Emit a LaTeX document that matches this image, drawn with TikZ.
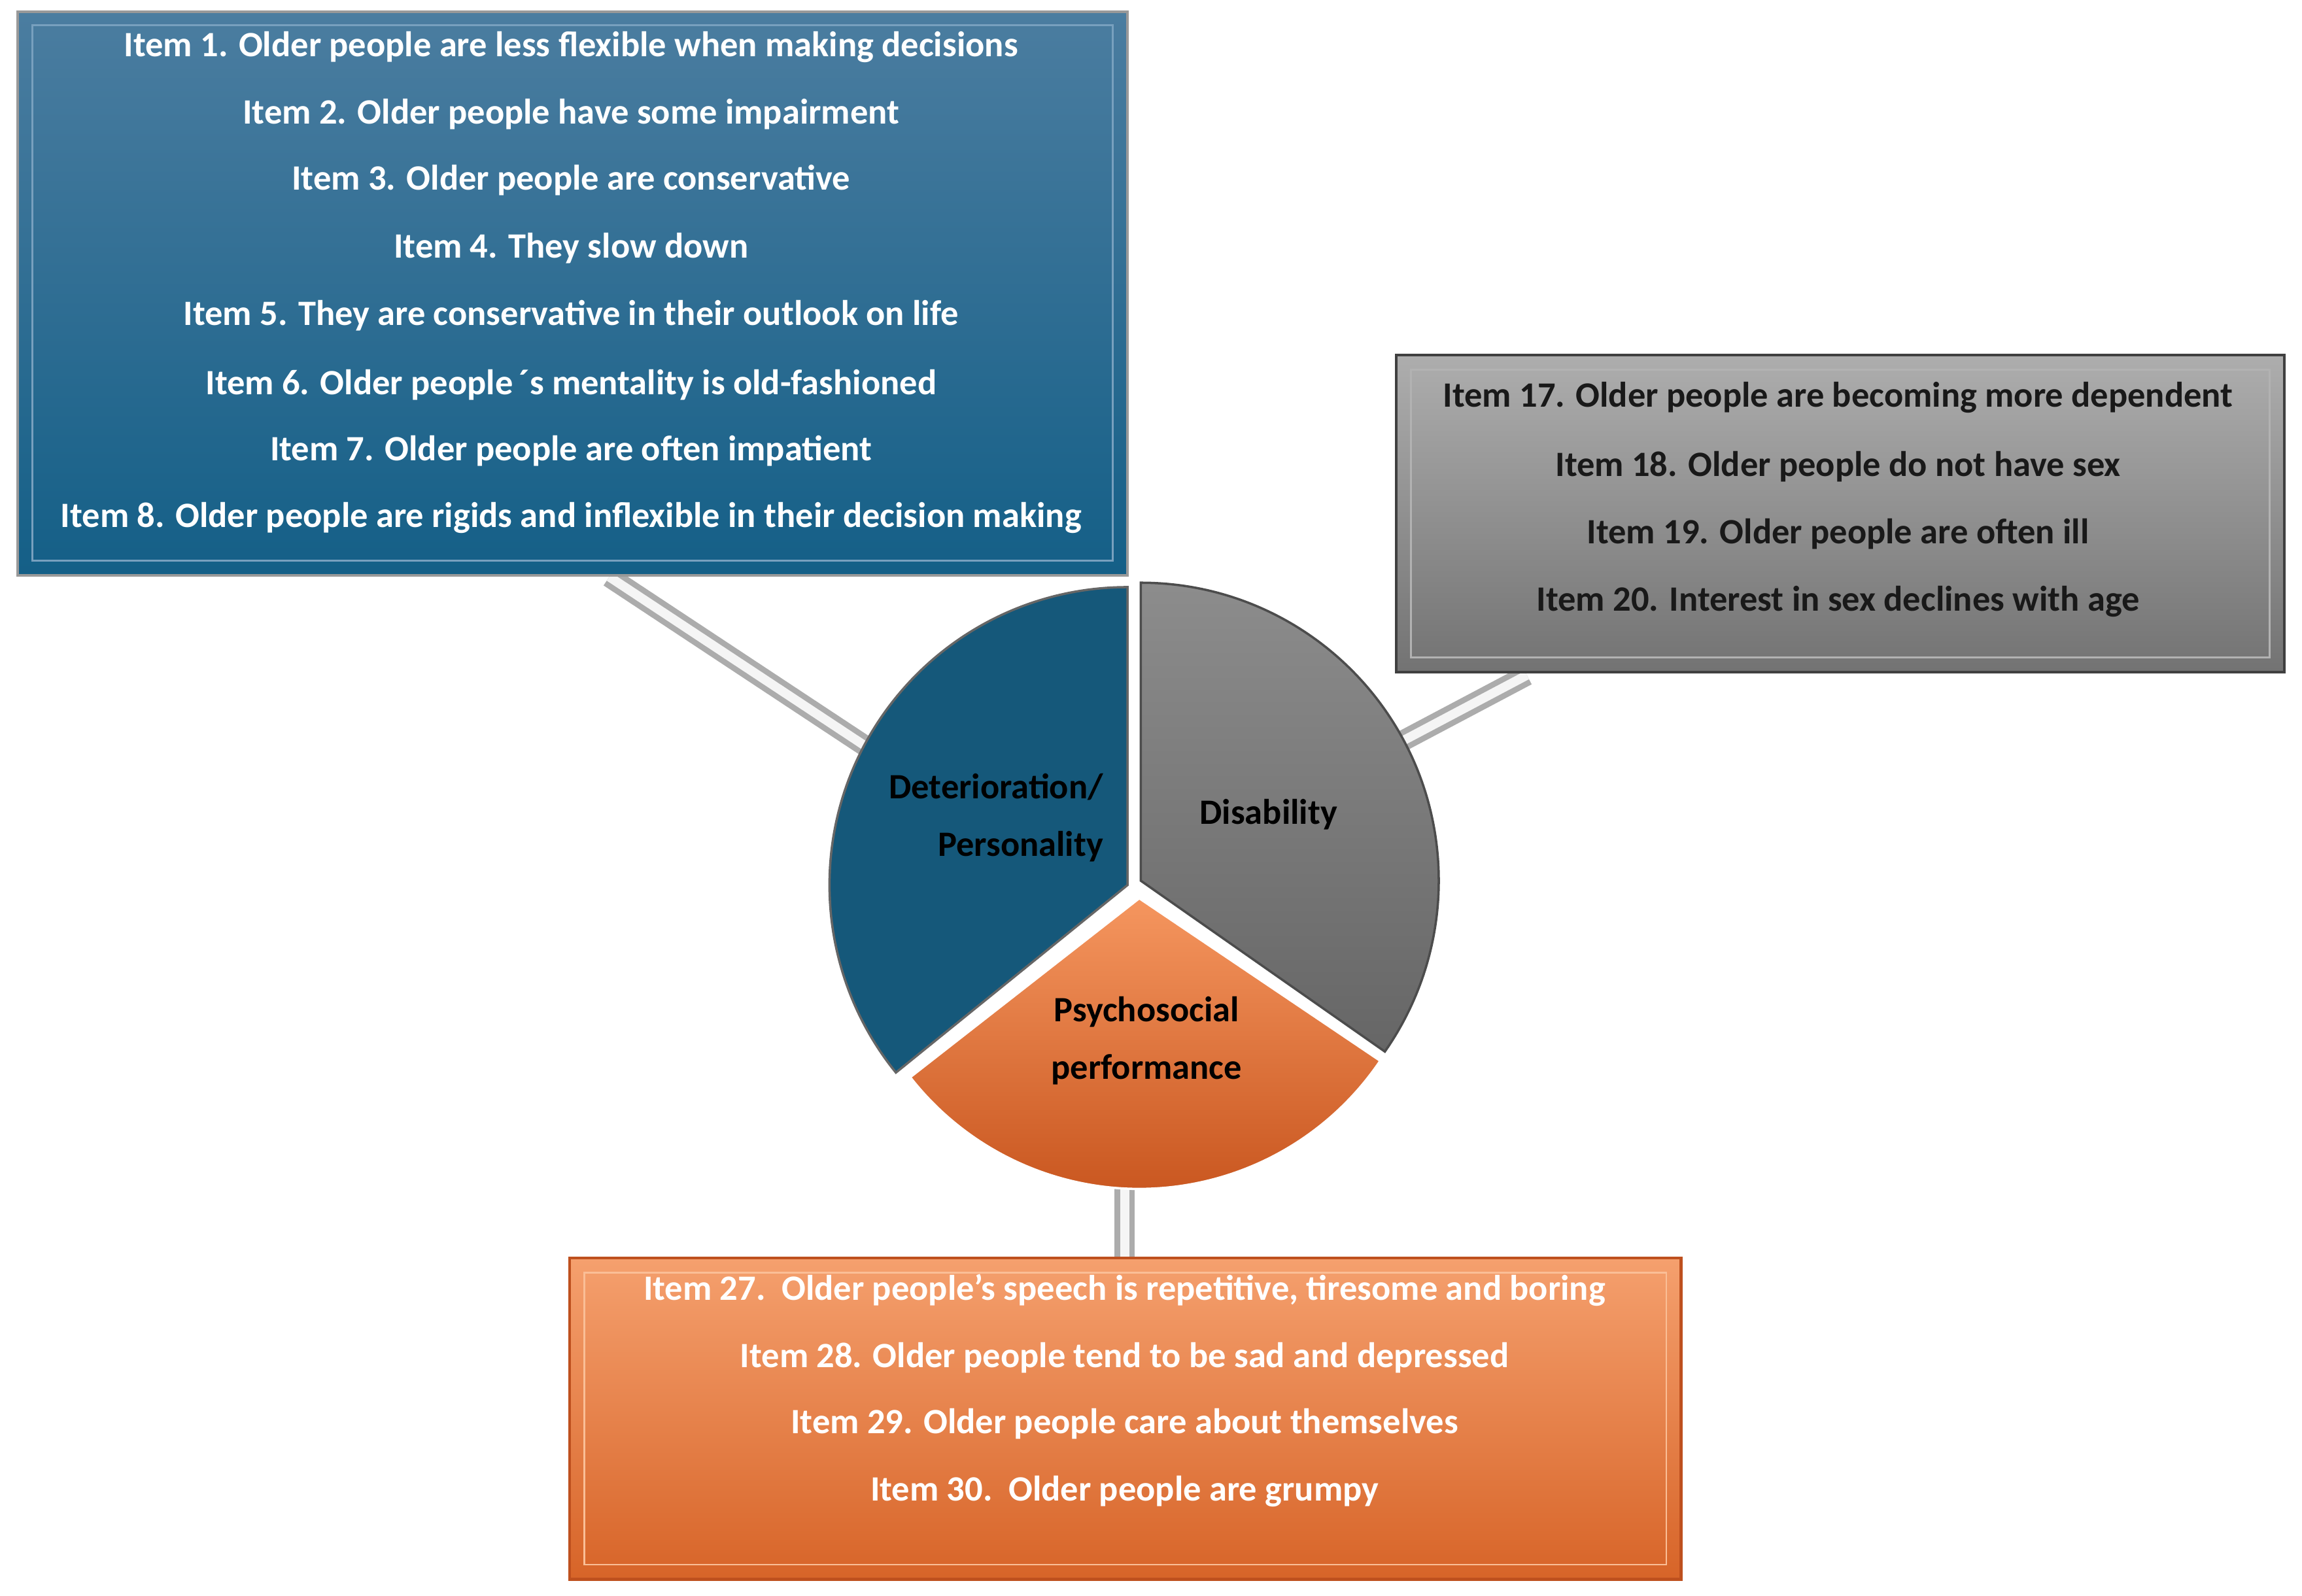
\documentclass[tikz,border=0pt]{standalone}
\usepackage{fontspec}
\setmainfont{Carlito}
\begin{document}
\begin{tikzpicture}[x=0.02245cm,y=-0.02245cm,
  itm/.style={font=\bfseries\fontsize{15.5}{17}\selectfont,text=white,anchor=center},
  lbl/.style={font=\bfseries\fontsize{15.5}{25}\selectfont,text=black,align=center},
  conn/.style={line width=9pt,draw=gray!65,
    postaction={draw=white!92!gray,line width=4pt}},
  frame/.style={draw=black!45,line width=0.8pt}]
\useasboundingbox (0,0) rectangle (1568,1087);
% connectors
\coordinate (b1) at (415,393); \coordinate (b2) at (592,510);
\coordinate (g1) at (1040,460); \coordinate (g2) at (955,505);
\coordinate (o1) at (766,800); \coordinate (o2) at (766,858);
\draw[conn] (b1) -- (b2);
\draw[conn] (g1) -- (g2);
\draw[conn] (o1) -- (o2);
% pie (y axis flipped: angles negated)
\shade[top color=black!45, bottom color=black!60, draw=black!70, line width=1pt]
  (777,600) -- ++(-90:203) arc[start angle=-90,end angle=35,radius=203] -- cycle;
\fill[color={rgb,255:red,21;green,88;blue,122}, draw=black!60,line width=1pt]
  (768,603) -- ++(-90:203) arc[start angle=-90,end angle=-219,radius=203] -- cycle;
\shade[top color={rgb,255:red,245;green,150;blue,95}, bottom color={rgb,255:red,200;green,85;blue,30}, draw=white,line width=1pt]
  (776,612) -- ++(-218:198) arc[start angle=-218,end angle=-326,radius=198] -- cycle;
\node[lbl,align=right,anchor=east] (dp) at (757,557) {Deterioration/\\Personality};
\node[lbl] (dis) at (864,555) {Disability};
\node[lbl] (ps) at (781,709) {Psychosocial\\performance};
% blue box
\shade[top color={rgb,255:red,75;green,125;blue,160}, bottom color={rgb,255:red,20;green,95;blue,135}, draw=black!40,line width=1pt]
  (12,8) rectangle (768,392);
\draw[frame,draw={rgb,255:red,120;green,160;blue,190}] (22,17) rectangle (758,382);
\node[itm] (i1) at (389,32) {Item 1. Older people are less flexible when making decisions};
\node[itm] (i2) at (389,78) {Item 2. Older people have some impairment};
\node[itm] (i3) at (389,123) {Item 3. Older people are conservative};
\node[itm] (i4) at (389,169) {Item 4. They slow down};
\node[itm] (i5) at (389,215) {Item 5. They are conservative in their outlook on life};
\node[itm] (i6) at (389,262) {Item 6. Older people\,´s mentality is old-fashioned};
\node[itm] (i7) at (389,307) {Item 7. Older people are often impatient};
\node[itm] (i8) at (389,353) {Item 8. Older people are rigids and inflexible in their decision making};
% gray box
\shade[top color=black!32, bottom color=black!55, draw=black!75,line width=1.2pt]
  (951,242) rectangle (1556,458);
\draw[frame,draw=black!30] (961,252) rectangle (1546,448);
\node[itm,text=black!90] (i17) at (1252,271) {Item 17. Older people are becoming more dependent};
\node[itm,text=black!90] (i18) at (1252,318) {Item 18. Older people do not have sex};
\node[itm,text=black!90] (i19) at (1252,364) {Item 19. Older people are often ill};
\node[itm,text=black!90] (i20) at (1252,410) {Item 20. Interest in sex declines with age};
% orange box
\shade[top color={rgb,255:red,245;green,160;blue,110}, bottom color={rgb,255:red,215;green,100;blue,40}, draw={rgb,255:red,190;green,80;blue,30},line width=1.2pt]
  (388,857) rectangle (1145,1076);
\draw[frame,draw={rgb,255:red,250;green,190;blue,150}] (398,867) rectangle (1135,1066);
\node[itm] (i27) at (766,879) {Item 27.\ \ Older people's speech is repetitive, tiresome and boring};
\node[itm] (i28) at (766,925) {Item 28. Older people tend to be sad and depressed};
\node[itm] (i29) at (766,970) {Item 29. Older people care about themselves};
\node[itm] (i30) at (766,1016) {Item 30.\ \ Older people are grumpy};
\end{tikzpicture}
\end{document}
